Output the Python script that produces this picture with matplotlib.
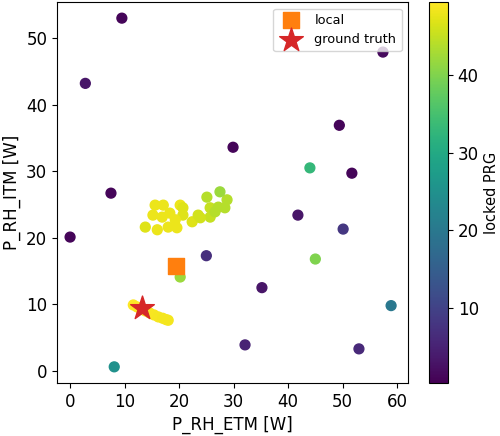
import numpy as np
import matplotlib.pyplot as plt

# scattered runs
etm = [9.5, 2.8, 0.0, 7.5, 29.9, 57.4, 49.4, 51.7, 44.0, 41.8, 50.1, 25.0, 45.0,
       20.2, 35.2, 58.9, 32.1, 53.0, 8.1]
itm = [53.0, 43.2, 20.1, 26.7, 33.6, 47.9, 36.9, 29.7, 30.5, 23.4, 21.3, 17.3, 16.8,
       14.1, 12.5, 9.8, 3.9, 3.3, 0.6]
prg = [1.0, 3.0, 1.0, 1.0, 1.0, 1.5, 1.0, 1.0, 33.0, 3.0, 8.0, 7.0, 40.0,
       42.0, 3.0, 20.0, 5.0, 6.0, 25.0]

# upper locked cluster
etm_c1 = [15.6, 17.1, 20.2, 15.2, 13.8, 16.0, 18.0, 19.6, 18.3, 20.7, 22.4, 23.5,
          25.7, 25.7, 27.2, 28.4, 28.8, 27.5, 25.1, 23.9, 19.3, 16.9, 20.7, 26.6]
itm_c1 = [24.9, 24.9, 24.9, 23.4, 21.6, 21.2, 21.6, 21.5, 23.7, 23.4, 22.4, 23.4,
          23.1, 24.5, 24.6, 24.5, 25.7, 26.9, 26.1, 23.0, 22.7, 23.1, 24.5, 23.9]
prg_c1 = [48, 48, 48, 48, 47, 48, 48, 48, 48, 47, 47, 46,
          45, 45, 44, 44, 44, 42, 44, 46, 48, 48, 47, 44]

# lower locked cluster
etm_c2 = [11.6, 12.3, 13.0, 13.8, 14.6, 15.4, 16.2, 17.0, 17.6, 18.0]
itm_c2 = [9.9, 9.6, 9.3, 9.0, 8.7, 8.4, 8.1, 7.9, 7.7, 7.6]
prg_c2 = [49.4, 49.4, 49.4, 49.2, 49.0, 49.0, 48.8, 48.6, 48.5, 48.5]

local = (19.4, 15.8)
truth = (13.2, 9.5)

x = etm + etm_c1 + etm_c2
y = itm + itm_c1 + itm_c2
c = prg + prg_c1 + prg_c2

fig = plt.figure(figsize=(5, 4.36), dpi=100)
ax = fig.add_axes([0.114, 0.122, 0.702, 0.873])
cax = fig.add_axes([0.858, 0.122, 0.038, 0.873])

sc = ax.scatter(x, y, c=c, cmap='viridis', s=50, vmin=0.3, vmax=49.4)
ax.scatter(*local, marker='s', color='C1', s=130, label='local')
ax.scatter(*truth, marker='*', color='C3', s=320, label='ground truth')

ax.set_xlim(-2.4, 62)
ax.set_ylim(-1.8, 55.4)
ax.set_xlabel('P_RH_ETM [W]', fontsize=12)
ax.set_ylabel('P_RH_ITM [W]', fontsize=12)
ax.tick_params(labelsize=12)
ax.legend(loc='upper right', fontsize=9.3)

cb = fig.colorbar(sc, cax=cax)
cb.set_label('locked PRG', fontsize=10.5)
cb.ax.tick_params(labelsize=12)

fig.savefig('out.png')
